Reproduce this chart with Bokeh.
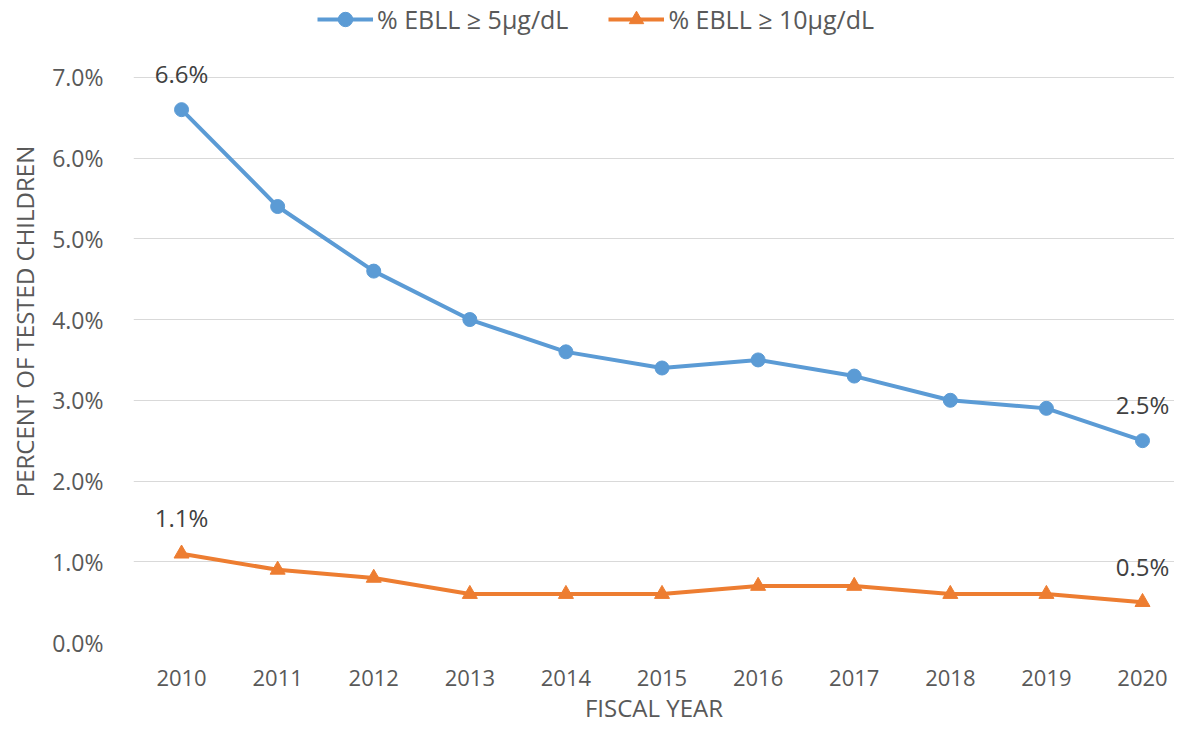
from bokeh.plotting import figure
from bokeh.models import (ColumnDataSource, Legend, LegendItem, FixedTicker,
                          PrintfTickFormatter, Range1d)
from bokeh.core.properties import value
from bokeh.embed import file_html
from bokeh.resources import INLINE

years = [2010, 2011, 2012, 2013, 2014, 2015, 2016, 2017, 2018, 2019, 2020]
ebll5 = [6.6, 5.4, 4.6, 4.0, 3.6, 3.4, 3.5, 3.3, 3.0, 2.9, 2.5]
ebll10 = [1.1, 0.9, 0.8, 0.6, 0.6, 0.6, 0.7, 0.7, 0.6, 0.6, 0.5]
y_ticks = [0, 1, 2, 3, 4, 5, 6, 7]
name5 = "% EBLL \u2265 5\u00b5g/dL"
name10 = "% EBLL \u2265 10\u00b5g/dL"

BLUE = "#5B9BD5"
ORANGE = "#ED7D31"
GREY = "#595959"
FONT = "Open Sans"

W, H = 1174, 726
p = figure(width=W, height=H, output_backend="svg", toolbar_location=None,
           x_range=Range1d(2009.5, 2020.333), y_range=Range1d(0, 7.952))
p.min_border_left = 133
p.min_border_right = 0
p.min_border_top = 0
p.min_border_bottom = 83
p.outline_line_color = None
p.background_fill_color = "white"
p.border_fill_color = "white"

p.xgrid.grid_line_color = None
p.ygrid.grid_line_color = "#D9D9D9"
p.ygrid.grid_line_width = 1

p.xaxis.ticker = FixedTicker(ticks=years)
p.yaxis.ticker = FixedTicker(ticks=y_ticks)
p.yaxis.formatter = PrintfTickFormatter(format="%.1f%%")
for ax in (p.xaxis, p.yaxis):
    ax.axis_line_color = None
    ax.major_tick_line_color = None
    ax.minor_tick_line_color = None
    ax.major_label_text_font = FONT
    ax.major_label_text_color = GREY
    ax.axis_label_text_font = FONT
    ax.axis_label_text_font_size = "24px"
    ax.axis_label_text_color = GREY
    ax.axis_label_text_font_style = "normal"
p.xaxis.major_label_text_font_size = "22px"
p.yaxis.major_label_text_font_size = "23px"

p.xaxis.axis_label = "FISCAL YEAR"
p.yaxis.axis_label = "PERCENT OF TESTED CHILDREN"
p.xaxis.major_label_standoff = 21
p.xaxis.axis_label_standoff = 2
p.yaxis.major_label_standoff = 24
p.yaxis.axis_label_standoff = 8

src = ColumnDataSource(dict(x=years, a=ebll5, b=ebll10))
l1 = p.line("x", "a", source=src, line_color=BLUE, line_width=4)
m1 = p.scatter("x", "a", source=src, marker="circle", size=14,
               fill_color=BLUE, line_color=BLUE)
l2 = p.line("x", "b", source=src, line_color=ORANGE, line_width=4)
m2 = p.scatter("x", "b", source=src, marker="triangle", size=15,
               fill_color=ORANGE, line_color=ORANGE)

idx = [0, len(years) - 1]
lab = ColumnDataSource(dict(
    x=[years[i] for i in idx] + [years[i] for i in idx],
    y=[ebll5[i] for i in idx] + [ebll10[i] for i in idx],
    t=["%.1f%%" % ebll5[i] for i in idx] + ["%.1f%%" % ebll10[i] for i in idx],
))
p.text("x", "y", text="t", source=lab, text_font=value(FONT),
       text_font_size="24px", text_color="#404040", text_align="center",
       text_baseline="middle", y_offset=-36)

legend = Legend(items=[LegendItem(label=name5, renderers=[l1, m1]),
                       LegendItem(label=name10, renderers=[l2, m2])],
                orientation="horizontal", location=(184, 605),
                glyph_width=56, glyph_height=36, label_standoff=4, spacing=40,
                padding=0, margin=0, border_line_color=None,
                background_fill_alpha=0,
                label_text_font=FONT, label_text_font_size="25px",
                label_text_color=GREY)
p.add_layout(legend, "center")

open("out.html", "w").write(file_html(p, INLINE))
